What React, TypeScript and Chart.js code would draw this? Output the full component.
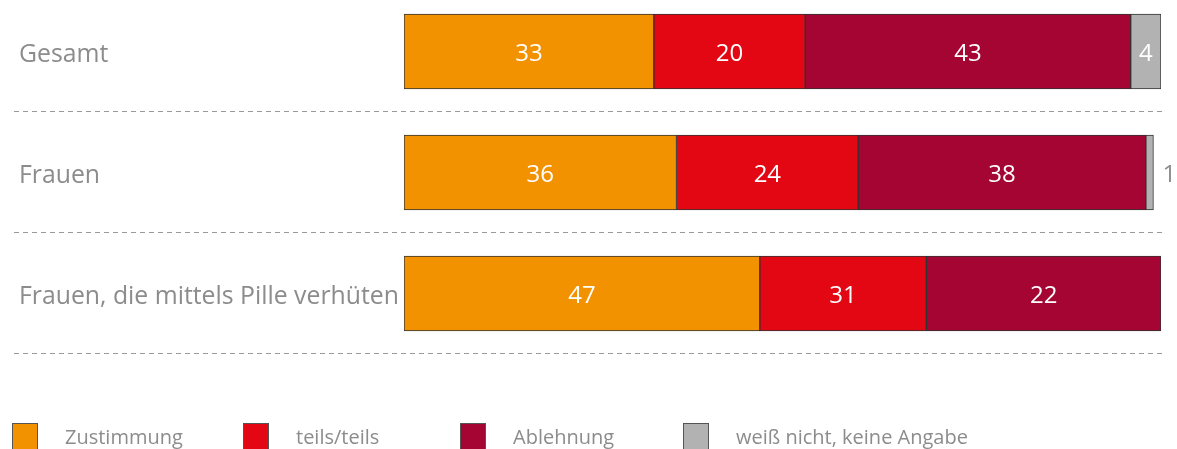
import React, { useEffect, useRef } from "react";
import { Chart, registerables } from "chart.js";

Chart.register(...registerables);

const categories = ["Gesamt", "Frauen", "Frauen, die mittels Pille verhüten"];
const seriesNames = ["Zustimmung", "teils/teils", "Ablehnung", "weiß nicht, keine Angabe"];
// segment lengths as drawn in the reference
const zustimmung = [33, 36, 47];
const teils = [20, 24, 22];
const ablehnung = [43, 38, 31];
const weissNicht = [4, 1, 0];
// numbers printed on the segments in the reference
const zustimmungLabels = ["33", "36", "47"];
const teilsLabels = ["20", "24", "31"];
const ablehnungLabels = ["43", "38", "22"];
const weissNichtLabels = ["4", "1", ""];
const colors = ["#F39200", "#E30613", "#A50533", "#B2B2B2"];
const legendX = [12, 243, 460, 683];

const FONT = "'Open Sans', 'Noto Sans', sans-serif";
const GRAY = "#8c8c8c";

export default function App() {
  const ref = useRef<HTMLCanvasElement | null>(null);
  useEffect(() => {
    if (!ref.current) return;
    const values = [zustimmung, teils, ablehnung, weissNicht];
    const labels = [zustimmungLabels, teilsLabels, ablehnungLabels, weissNichtLabels];
    const overlay = {
      id: "overlay",
      beforeDatasetsDraw(chart: any) {
        const ctx = chart.ctx;
        const y = chart.scales.y;
        const band = y.height / categories.length;
        ctx.save();
        ctx.strokeStyle = "#9a9a9a";
        ctx.lineWidth = 1;
        ctx.setLineDash([5, 4]);
        for (let i = 0; i < categories.length; i++) {
          const py = Math.round(y.getPixelForValue(i) + band / 2) - 0.5;
          ctx.beginPath();
          ctx.moveTo(14, py);
          ctx.lineTo(1166, py);
          ctx.stroke();
        }
        ctx.restore();
      },
      afterDatasetsDraw(chart: any) {
        const ctx = chart.ctx;
        ctx.save();
        ctx.font = `24px ${FONT}`;
        ctx.textBaseline = "middle";
        chart.data.datasets.forEach((ds: any, di: number) => {
          const meta = chart.getDatasetMeta(di);
          meta.data.forEach((el: any, i: number) => {
            const v = ds.data[i];
            const txt = labels[di][i];
            if (!v || !txt) return;
            if (v < 3) {
              ctx.fillStyle = GRAY;
              ctx.textAlign = "left";
              ctx.fillText(txt, el.x + 9, el.y + 3);
            } else {
              ctx.fillStyle = "#ffffff";
              ctx.textAlign = "center";
              ctx.fillText(txt, (el.x + el.base) / 2, el.y + 3);
            }
          });
        });
        // legend
        const ly = chart.height - 26;
        ctx.font = `20px ${FONT}`;
        ctx.textAlign = "left";
        chart.data.datasets.forEach((ds: any, di: number) => {
          const x = legendX[di];
          ctx.fillStyle = ds.backgroundColor;
          ctx.fillRect(x, ly, 26, 28);
          ctx.strokeStyle = "#555";
          ctx.lineWidth = 1;
          ctx.strokeRect(x + 0.5, ly + 0.5, 25, 28);
          ctx.fillStyle = GRAY;
          ctx.fillText(ds.label, x + 53, ly + 15);
        });
        ctx.restore();
      },
    };
    const chart = new Chart(ref.current, {
      type: "bar",
      data: {
        labels: categories,
        datasets: seriesNames.map((name, i) => ({
          label: name,
          data: values[i],
          backgroundColor: colors[i],
          borderColor: "#333333",
          borderWidth: 1,
          borderSkipped: false,
          barThickness: 75,
        })),
      },
      options: {
        indexAxis: "y",
        animation: false,
        responsive: false,
        maintainAspectRatio: false,
        layout: { padding: { left: 19, right: 16, top: 1, bottom: 95 } },
        plugins: { legend: { display: false }, tooltip: { enabled: false } },
        scales: {
          x: { stacked: true, min: 0, max: 100, display: false },
          y: {
            stacked: true,
            grid: { display: false },
            border: { display: false },
            afterFit: (s: any) => {
              s.width = 385;
              s.paddingTop = 0;
              s.paddingBottom = 0;
            },
            ticks: {
              crossAlign: "far",
              padding: 0,
              labelOffset: 3,
              color: GRAY,
              font: { family: FONT, size: 24.8 },
            },
          },
        },
      },
      plugins: [overlay],
    } as any);
    return () => chart.destroy();
  }, []);
  return (
    <div style={{ position: "absolute", left: 0, top: -10, width: 1177, height: 459 }}>
      <canvas ref={ref} width={1177} height={459} style={{ width: 1177, height: 459, display: "block" }} />
    </div>
  );
}
